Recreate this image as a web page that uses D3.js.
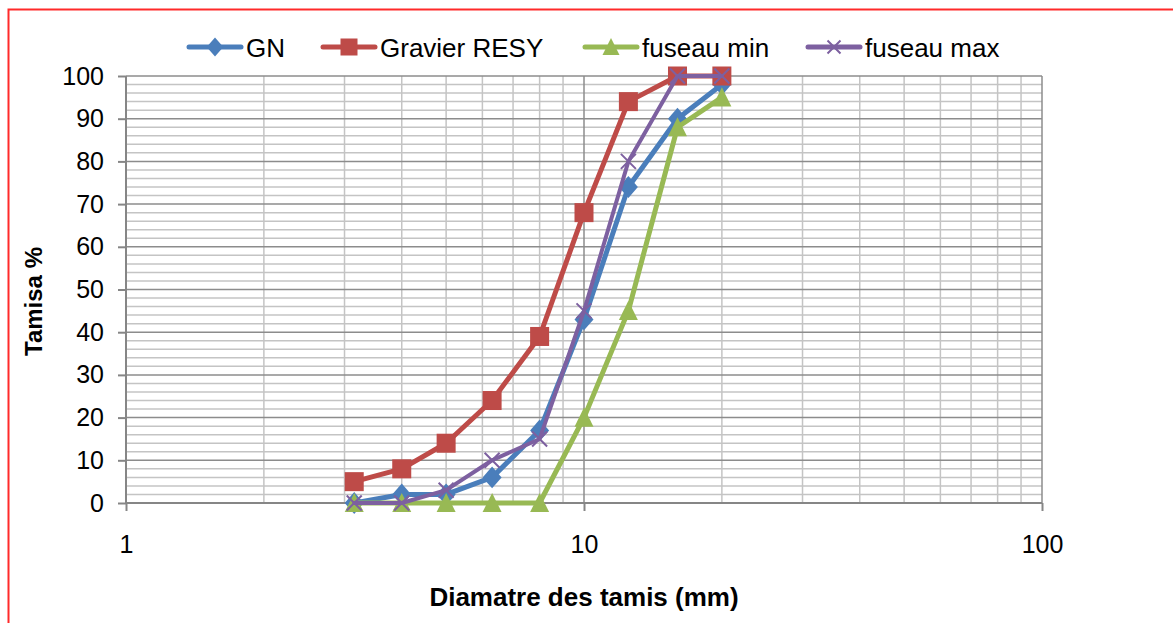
<!DOCTYPE html>
<html>
<head>
<meta charset="utf-8">
<style>
body { margin: 0; background: #fff; }
svg { display: block; font-family: "Liberation Sans", Arial, sans-serif; }
</style>
</head>
<body>
<svg id="chart" width="1173" height="623"></svg>
<script src="https://d3js.org/d3.v7.min.js"></script>
<script>
// sieve sizes (mm) and passing percentages
var sieves = [3.15, 4, 5, 6.3, 8, 10, 12.5, 16, 20];
var gn = [0, 2, 2, 6, 17, 43, 74, 90, 98];
var gravier = [5, 8, 14, 24, 39, 68, 94, 100, 100];
var fuseauMin = [0, 0, 0, 0, 0, 20, 45, 88, 95];
var fuseauMax = [0, 0, 3, 10, 15, 45, 80, 100, 100];
var yTicks = [0, 10, 20, 30, 40, 50, 60, 70, 80, 90, 100];
var xTicks = [1, 10, 100];

var series = [
  { name: "GN", values: gn, color: "#4a7ebb", marker: "diamond" },
  { name: "Gravier RESY", values: gravier, color: "#be4b48", marker: "square" },
  { name: "fuseau min", values: fuseauMin, color: "#98b954", marker: "triangle" },
  { name: "fuseau max", values: fuseauMax, color: "#7d60a0", marker: "cross" }
];

var svg = d3.select("#chart");
var margin = { top: 76, left: 126, right: 131, bottom: 120 };
var width = 1173 - margin.left - margin.right,
    height = 623 - margin.top - margin.bottom;

// outer red frame (right/bottom fall outside the picture)
svg.append("rect")
  .attr("x", 8.5).attr("y", 9.5)
  .attr("width", 1180).attr("height", 640)
  .attr("fill", "none").attr("stroke", "#ff2a2a").attr("stroke-width", 2);

var x = d3.scaleLog().domain([1, 100]).range([0, width]);
var y = d3.scaleLinear().domain([0, 100]).range([height, 0]);

var g = svg.append("g").attr("transform", "translate(" + margin.left + "," + margin.top + ")");

// minor grid
var minorY = d3.range(0, 101, 2).filter(function(v) { return v % 10 !== 0; });
g.selectAll(".hminor").data(minorY).enter().append("line")
  .attr("x1", 0).attr("x2", width)
  .attr("y1", function(d) { return y(d); }).attr("y2", function(d) { return y(d); })
  .attr("stroke", "#c4c4c4").attr("stroke-width", 1.5);

var minorX = [];
[1, 10].forEach(function(dec) { for (var k = 2; k <= 9; k++) minorX.push(dec * k); });
g.selectAll(".vminor").data(minorX).enter().append("line")
  .attr("y1", 0).attr("y2", height)
  .attr("x1", function(d) { return x(d); }).attr("x2", function(d) { return x(d); })
  .attr("stroke", "#c4c4c4").attr("stroke-width", 1.5);

// major grid
g.selectAll(".hmajor").data(yTicks).enter().append("line")
  .attr("x1", 0).attr("x2", width)
  .attr("y1", function(d) { return y(d); }).attr("y2", function(d) { return y(d); })
  .attr("stroke", "#8c8c8c").attr("stroke-width", 1.5);
g.selectAll(".vmajor").data(xTicks).enter().append("line")
  .attr("y1", 0).attr("y2", height)
  .attr("x1", function(d) { return x(d); }).attr("x2", function(d) { return x(d); })
  .attr("stroke", "#8c8c8c").attr("stroke-width", 1.5);

// axes
var yAxis = g.append("g")
  .call(d3.axisLeft(y).tickValues(yTicks).tickSize(8).tickPadding(14));
var xAxis = g.append("g")
  .attr("transform", "translate(0," + height + ")")
  .call(d3.axisBottom(x).tickValues(xTicks).tickFormat(d3.format("d")).tickSize(8).tickPadding(24));
[yAxis, xAxis].forEach(function(a) {
  a.select(".domain").attr("stroke", "#868686").attr("stroke-width", 2);
  a.selectAll(".tick line").attr("stroke", "#868686").attr("stroke-width", 2);
  a.selectAll(".tick text").attr("fill", "#000").style("font-size", "25px")
    .style("font-family", "'Liberation Sans', Arial, sans-serif");
});
yAxis.select(".domain").attr("d", "M0," + height + "V0");
xAxis.select(".domain").attr("d", "M0,0H" + width);

// axis titles
svg.append("text")
  .attr("x", margin.left + x(10)).attr("y", 606)
  .attr("text-anchor", "middle").style("font-size", "26px").style("font-weight", "bold")
  .text("Diamatre des tamis (mm)");
svg.append("text")
  .attr("transform", "translate(42," + (margin.top + height / 2 + 12) + ") rotate(-90)")
  .attr("text-anchor", "middle").style("font-size", "24px").style("font-weight", "bold")
  .text("Tamisa %");

function drawMarker(sel, type, color, size) {
  if (type === "diamond") {
    sel.append("path").attr("d", d3.symbol().type(d3.symbolDiamond2).size(size * size * 0.9)())
      .attr("fill", color).attr("transform", "scale(1,1.15)");
  } else if (type === "square") {
    sel.append("rect").attr("x", -size / 2).attr("y", -size / 2)
      .attr("width", size).attr("height", size).attr("fill", color);
  } else if (type === "triangle") {
    var h = size * 0.95;
    sel.append("path").attr("d", "M0," + (-h / 2 - 1) + "L" + (size / 2) + "," + (h / 2) + "L" + (-size / 2) + "," + (h / 2) + "Z")
      .attr("fill", color);
  } else {
    var s = size / 2;
    sel.append("path").attr("d", "M" + (-s) + "," + (-s) + "L" + s + "," + s + "M" + (-s) + "," + s + "L" + s + "," + (-s))
      .attr("stroke", color).attr("stroke-width", 2).attr("fill", "none");
  }
}

var markerSize = { diamond: 16, square: 19, triangle: 19, cross: 15 };
var line = d3.line()
  .x(function(d) { return x(d[0]); })
  .y(function(d) { return y(d[1]); });

series.forEach(function(s) {
  var pts = sieves.map(function(v, i) { return [v, s.values[i]]; });
  g.append("path").datum(pts)
    .attr("d", line).attr("fill", "none")
    .attr("stroke", s.color).attr("stroke-width", s.marker === "cross" ? 4 : 5)
    .attr("stroke-linejoin", "round").attr("stroke-linecap", "round");
  pts.forEach(function(p) {
    var m = g.append("g").attr("transform", "translate(" + x(p[0]) + "," + y(p[1]) + ")");
    drawMarker(m, s.marker, s.color, markerSize[s.marker]);
  });
});

// legend
var legendX = [187, 321, 583, 806];
var legend = svg.append("g");
series.forEach(function(s, i) {
  var lg = legend.append("g").attr("transform", "translate(" + legendX[i] + ",47)");
  lg.append("line").attr("x1", 2).attr("x2", 54).attr("y1", 0).attr("y2", 0)
    .attr("stroke", s.color).attr("stroke-width", 5).attr("stroke-linecap", "round");
  var m = lg.append("g").attr("transform", "translate(28,0)");
  drawMarker(m, s.marker, s.color, markerSize[s.marker] - 2);
  lg.append("text").attr("x", 59).attr("y", 10).style("font-size", "26px").text(s.name);
});
</script>
</body>
</html>
